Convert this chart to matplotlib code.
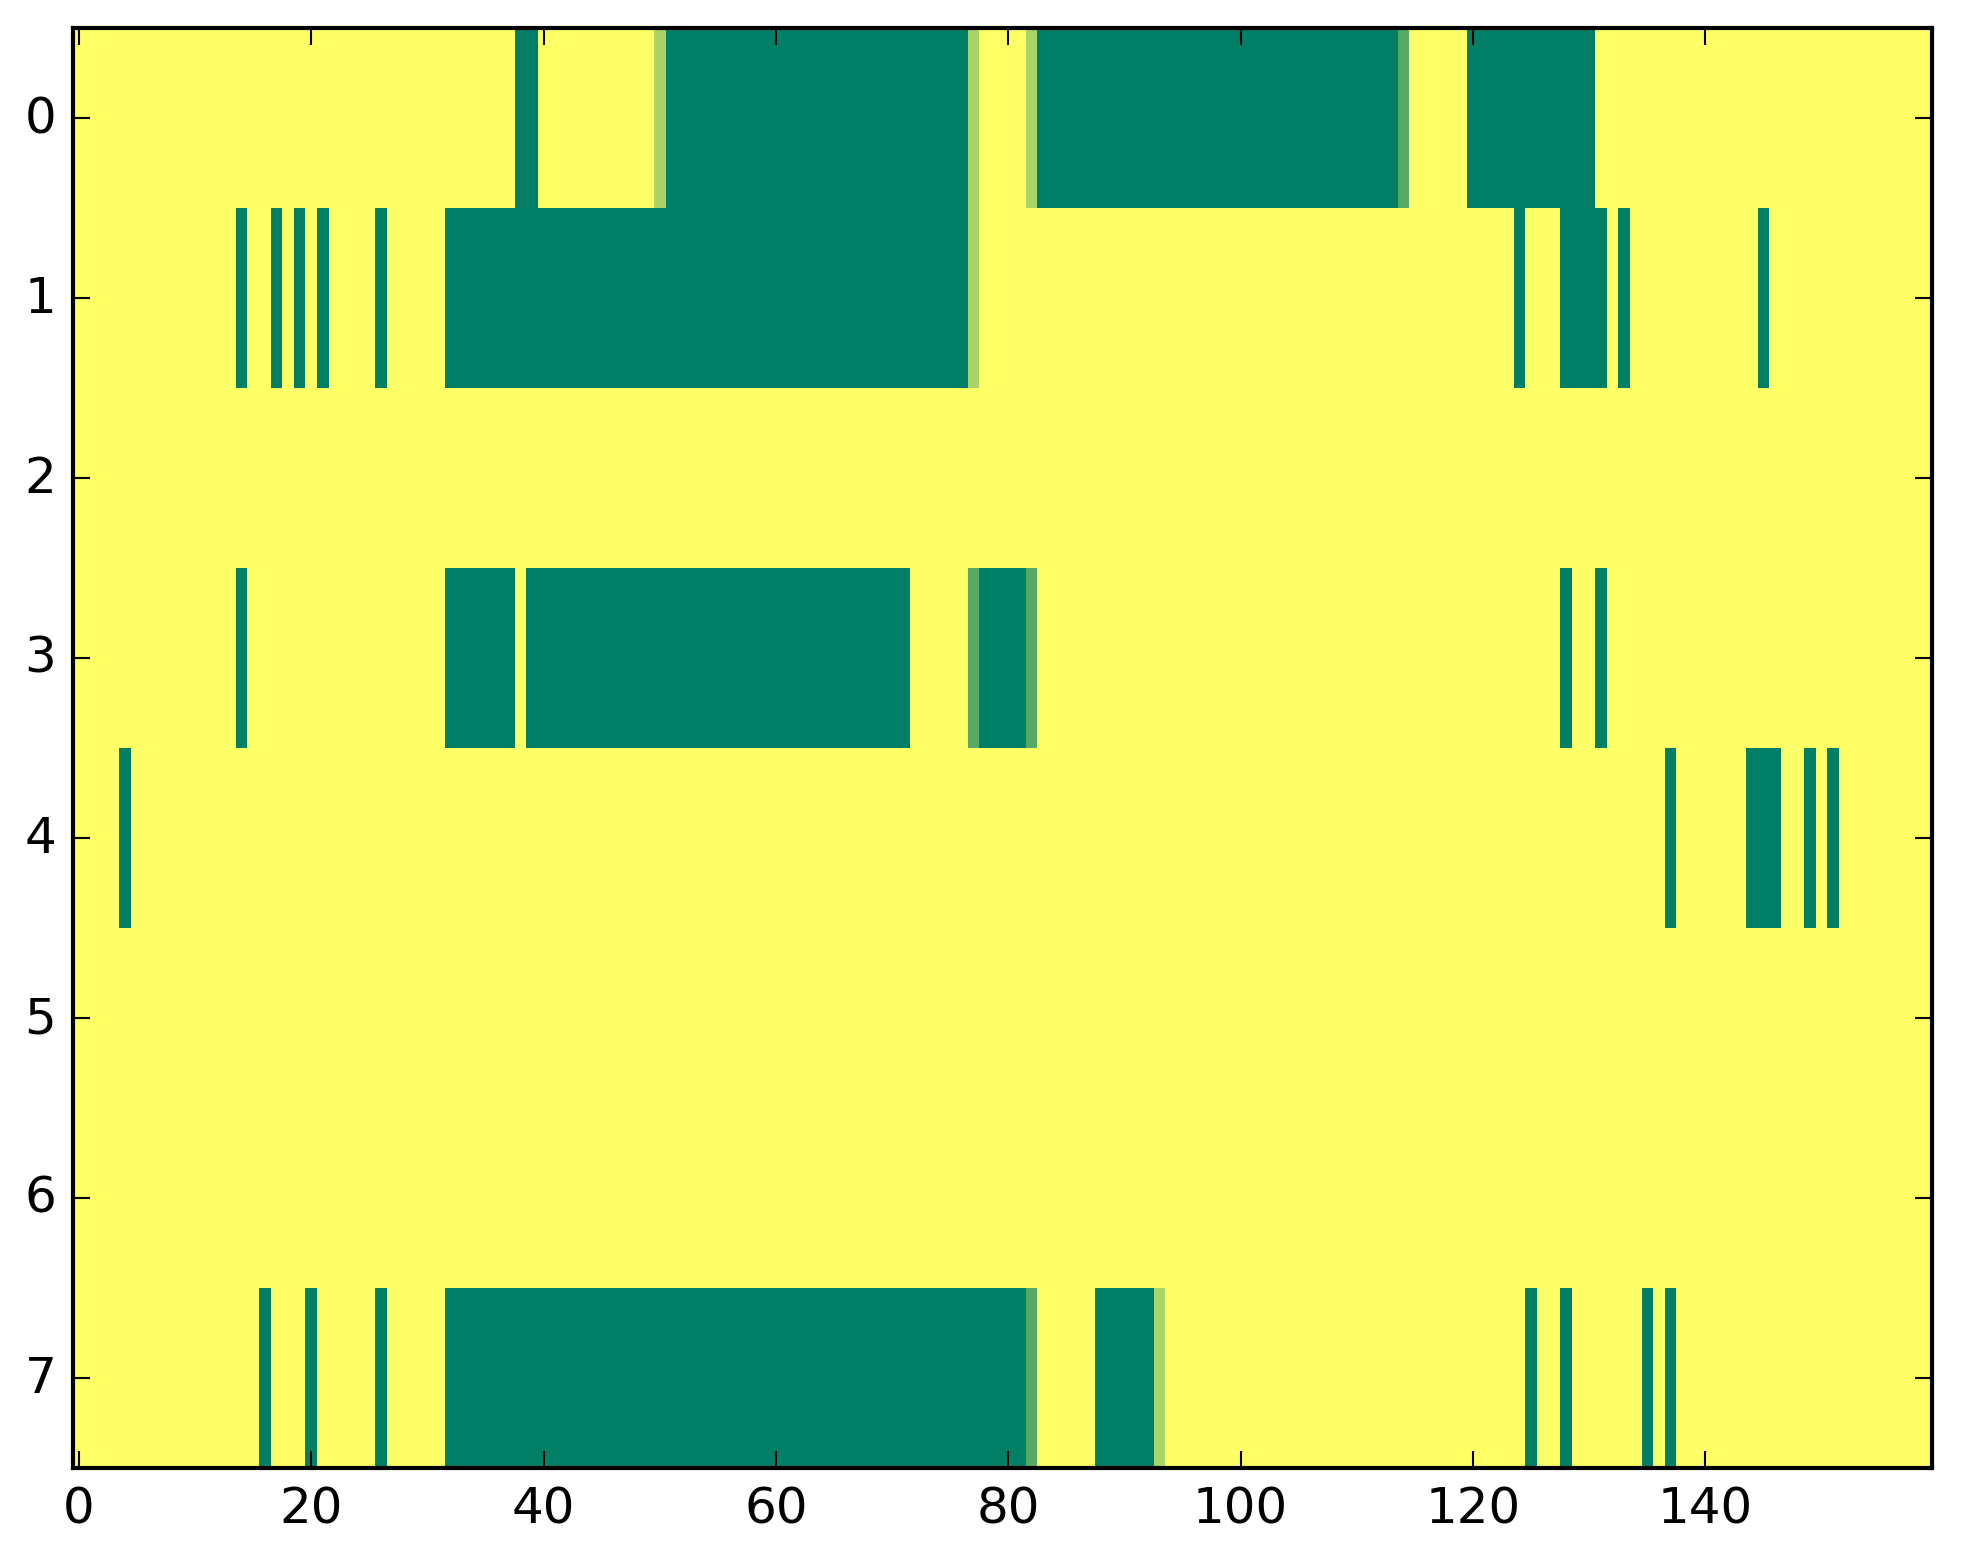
import numpy as np
import matplotlib
matplotlib.use("Agg")
import matplotlib.pyplot as plt

plt.style.use("classic")

n_rows = 8
n_cols = 160

# spans of columns (first, last) per row, value 1 = dark green
row0_full = [(38, 39), (51, 76), (83, 113), (120, 130)]
row1_full = [(14, 14), (17, 17), (19, 19), (21, 21), (26, 26), (32, 76),
             (124, 124), (128, 131), (133, 133), (145, 145)]
row2_full = []
row3_full = [(14, 14), (32, 37), (39, 71), (78, 81), (128, 128), (131, 131)]
row4_full = [(4, 4), (137, 137), (144, 146), (149, 149), (151, 151)]
row5_full = []
row6_full = []
row7_full = [(16, 16), (20, 20), (26, 26), (32, 81), (88, 92),
             (125, 125), (128, 128), (135, 135), (137, 137)]

# partial cells: (row, column)
third_cells = [(0, 50), (0, 77), (0, 82), (1, 77), (7, 93)]
two_third_cells = [(0, 114), (3, 77), (3, 82), (7, 82)]

full_spans = [row0_full, row1_full, row2_full, row3_full,
              row4_full, row5_full, row6_full, row7_full]

grid = np.zeros((n_rows, n_cols))
for r, spans in enumerate(full_spans):
    for a, b in spans:
        grid[r, a:b + 1] = 1.0
for r, c in third_cells:
    grid[r, c] = 1.0 / 3
for r, c in two_third_cells:
    grid[r, c] = 2.0 / 3

fig = plt.figure(figsize=(1963 / 300, 1564 / 300), dpi=300)
fig.patch.set_facecolor("white")
ax = fig.add_axes([73 / 1963, 95 / 1564, 1859 / 1963, 1440 / 1564])
ax.imshow(grid, cmap="summer_r", vmin=0, vmax=1, aspect="auto",
          interpolation="nearest")
ax.set_xticks([0, 20, 40, 60, 80, 100, 120, 140])
ax.set_yticks(range(n_rows))
ax.set_xlim(-0.5, n_cols - 0.5)
ax.set_ylim(n_rows - 0.5, -0.5)

fig.savefig("out.png", dpi=300, facecolor="white")
